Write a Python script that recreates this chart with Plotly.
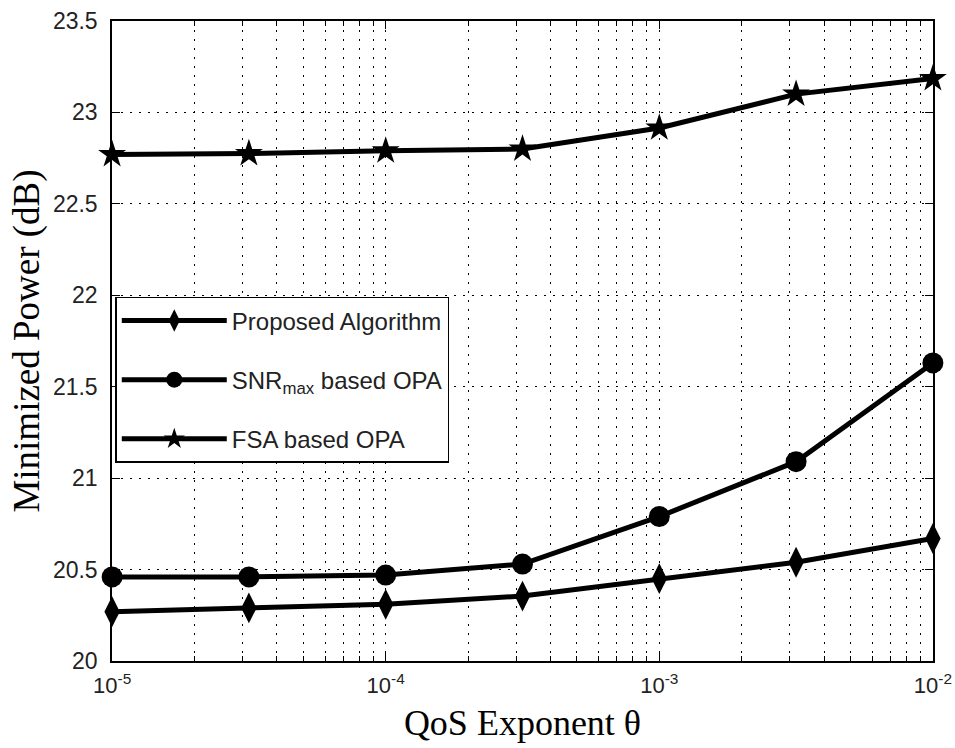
import plotly.graph_objects as go

theta = [1e-5, 3.162e-5, 1e-4, 3.162e-4, 1e-3, 3.162e-3, 1e-2]
proposed = [20.27, 20.29, 20.31, 20.355, 20.45, 20.54, 20.67]
snr_max = [20.46, 20.46, 20.47, 20.53, 20.79, 21.09, 21.63]
fsa = [22.77, 22.775, 22.79, 22.80, 22.915, 23.10, 23.185]

names = ["Proposed Algorithm", "SNR<sub>max</sub> based OPA", "FSA based OPA"]
x_tickvals = [1e-5, 1e-4, 1e-3, 1e-2]
x_ticktext = ["10<sup>-5</sup>", "10<sup>-4</sup>", "10<sup>-3</sup>", "10<sup>-2</sup>"]
y_tickvals = [20, 20.5, 21, 21.5, 22, 22.5, 23, 23.5]
y_ticktext = ["20", "20.5", "21", "21.5", "22", "22.5", "23", "23.5"]

fig = go.Figure()
series = [(proposed, "diamond-tall", 22), (snr_max, "circle", 21), (fsa, "star", 21)]
for i, ((vals, sym, sz), nm) in enumerate(zip(series, names)):
    fig.add_trace(go.Scatter(
        x=theta, y=vals, name=nm, mode="lines+markers",
        line=dict(color="black", width=5),
        marker=dict(symbol=sym, size=sz, color="black"),
        legendgroup=f"g{i}", cliponaxis=False,
    ))

dot = "2px,7px"
grid = dict(showgrid=True, gridcolor="black", gridwidth=1, griddash=dot)
fig.update_xaxes(
    type="log", range=[-5.0004, -1.9996], tickmode="array", tickvals=x_tickvals, ticktext=x_ticktext,
    ticks="inside", ticklen=8, tickcolor="black", mirror="ticks",
    showline=True, linecolor="black", linewidth=1.5,
    minor=dict(dtick="D1", ticks="inside", ticklen=5, tickcolor="black", showgrid=True,
               gridcolor="black", gridwidth=1, griddash=dot),
    tickfont=dict(family="Liberation Sans, Arial", size=22, color="#222"),
    title=dict(text="QoS Exponent θ", font=dict(family="Liberation Serif, Times New Roman", size=36, color="black"), standoff=13),
    automargin=False, ticklabelstandoff=4, ticklabeloverflow="allow",
    **grid,
)
fig.update_yaxes(
    range=[20, 23.5], tickvals=y_tickvals, ticktext=y_ticktext,
    ticks="inside", ticklen=8, tickcolor="black", mirror="ticks",
    showline=True, linecolor="black", linewidth=1.5,
    tickfont=dict(family="Liberation Sans, Arial", size=23, color="#222"),
    title=dict(text="Minimized Power (dB)", font=dict(family="Liberation Serif, Times New Roman", size=37, color="black"), standoff=2),
    zeroline=False, automargin=False, ticklabelstandoff=8, ticklabeloverflow="allow",
    **grid,
)
fig.update_layout(
    width=955, height=748,
    margin=dict(l=112, r=22, t=21, b=87),
    plot_bgcolor="white", paper_bgcolor="white",
    showlegend=True,
    legend=dict(x=0.004, y=0.569, xanchor="left", yanchor="top",
                bgcolor="white", bordercolor="black", borderwidth=1.5,
                font=dict(family="Liberation Sans, Arial", size=24, color="#222"),
                tracegroupgap=25, itemwidth=105),
)
fig.write_html("out.html", config={"displayModeBar": False},
               post_script="document.body.style.margin='0';document.body.style.overflow='hidden';")
